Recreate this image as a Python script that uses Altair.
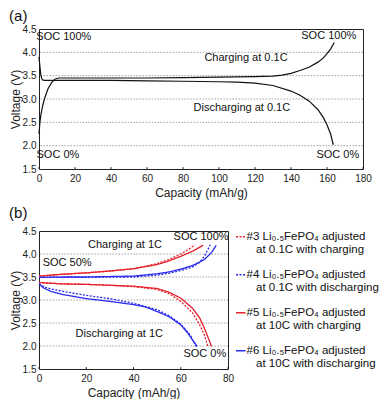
import altair as alt
import pandas as pd

FONT = "Liberation Sans"

# ---------------- Panel (a) data ----------------
a_chg_x = [0, 0.5, 1, 2, 3, 5, 7, 9, 11, 20, 40, 60, 80, 100, 120, 130, 135, 140, 145, 150, 155, 158, 160, 162, 164]
a_chg_v = [2.25, 2.5, 2.65, 2.85, 3.0, 3.22, 3.35, 3.43, 3.45, 3.45, 3.45, 3.45, 3.46, 3.47, 3.48, 3.49, 3.51, 3.55, 3.61, 3.68, 3.79, 3.88, 3.97, 4.07, 4.21]
a_dis_x = [0, 0.5, 1, 1.5, 2, 3, 5, 10, 20, 40, 60, 80, 100, 110, 120, 130, 140, 145, 150, 155, 158, 160, 162, 163.5]
a_dis_v = [3.9, 3.7, 3.52, 3.44, 3.41, 3.4, 3.4, 3.4, 3.4, 3.4, 3.39, 3.38, 3.37, 3.36, 3.34, 3.29, 3.17, 3.08, 2.96, 2.77, 2.6, 2.45, 2.25, 2.02]

a_txt = ["SOC 100%", "SOC 100%", "Charging at 0.1C", "Discharging at 0.1C", "SOC 0%", "SOC 0%"]
a_txt_x = [13.8, 161, 115, 112.7, 10.5, 166]
a_txt_v = [4.33, 4.35, 3.88, 2.81, 1.80, 1.79]

# ---------------- Panel (b) data ----------------
IND = "\u200b\u00a0\u00a0\u00a0"
series = [
    "#3 Li\u2080.\u2085FePO\u2084 adjusted|" + IND + "at 0.1C with charging",
    "#4 Li\u2080.\u2085FePO\u2084 adjusted|" + IND + "at 0.1C with discharging",
    "#5 Li\u2080.\u2085FePO\u2084 adjusted|" + IND + "at 10C with charging",
    "#6 Li\u2080.\u2085FePO\u2084 adjusted|" + IND + "at 10C with discharging",
]
colors = ["#e8202a", "#2a2af0", "#e8202a", "#2a2af0"]
dashes = [[2, 1.5], [2, 1.5], [1, 0], [1, 0]]

# charging curves (upper)
b3c_x = [0, 10, 20, 30, 40, 50, 55, 60, 63, 66]
b3c_v = [3.52, 3.56, 3.59, 3.63, 3.68, 3.79, 3.88, 4.0, 4.09, 4.2]
b4c_x = [0, 10, 20, 30, 40, 50, 55, 60, 65, 68, 70, 72.5]
b4c_v = [3.49, 3.49, 3.49, 3.5, 3.5, 3.54, 3.58, 3.64, 3.72, 3.82, 3.95, 4.2]
b5c_x = [0, 10, 20, 30, 40, 50, 55, 60, 65, 69.5]
b5c_v = [3.52, 3.56, 3.59, 3.63, 3.68, 3.77, 3.85, 3.95, 4.06, 4.19]
b6c_x = [0, 10, 20, 30, 40, 50, 55, 60, 65, 70, 73, 75]
b6c_v = [3.49, 3.5, 3.5, 3.51, 3.52, 3.57, 3.61, 3.67, 3.75, 3.88, 4.03, 4.19]

# discharging curves (lower)
b3d_x = [0, 10, 20, 30, 40, 50, 55, 60, 65, 68, 70, 71.5]
b3d_v = [3.38, 3.35, 3.34, 3.32, 3.29, 3.23, 3.14, 2.97, 2.72, 2.46, 2.24, 1.99]
b4d_x = [0, 2, 5, 10, 20, 30, 40, 50, 55, 60, 64, 66.5]
b4d_v = [3.35, 3.29, 3.24, 3.19, 3.1, 3.03, 2.93, 2.79, 2.66, 2.48, 2.24, 1.99]
b5d_x = [0, 10, 20, 30, 40, 50, 55, 60, 65, 68, 70, 72, 73]
b5d_v = [3.38, 3.35, 3.34, 3.32, 3.3, 3.25, 3.17, 3.04, 2.82, 2.61, 2.39, 2.13, 1.99]
b6d_x = [0, 2, 5, 10, 20, 30, 40, 45, 50, 55, 60, 63, 65, 67]
b6d_v = [3.35, 3.26, 3.19, 3.12, 3.03, 2.97, 2.9, 2.85, 2.75, 2.64, 2.46, 2.28, 2.13, 1.99]

b_txt = ["Charging at 1C", "SOC 100%", "SOC 50%", "Discharging at 1C", "SOC 0%"]
b_txt_x = [36.4, 68.6, 11.9, 34, 70.2]
b_txt_v = [4.19, 4.37, 3.80, 2.26, 1.83]

grid_v = [2.0, 2.5, 3.0, 3.5, 4.0]
a_ticks = [0, 20, 40, 60, 80, 100, 120, 140, 160, 180]
b_ticks = [0, 20, 40, 60, 80]
y_ticks = [1.5, 2.0, 2.5, 3.0, 3.5, 4.0, 4.5]

# ---------------- build tables ----------------
rows = []
for name, xs, vs in [("chg", a_chg_x, a_chg_v), ("dis", a_dis_x, a_dis_v)]:
    for i, (x, v) in enumerate(zip(xs, vs)):
        rows.append({"curve": name, "cap": x, "v": v, "i": i})
df_a = pd.DataFrame(rows)

rows = []
b_curves = [
    (series[0], "c", b3c_x, b3c_v), (series[0], "d", b3d_x, b3d_v),
    (series[1], "c", b4c_x, b4c_v), (series[1], "d", b4d_x, b4d_v),
    (series[2], "c", b5c_x, b5c_v), (series[2], "d", b5d_x, b5d_v),
    (series[3], "c", b6c_x, b6c_v), (series[3], "d", b6d_x, b6d_v),
]
for s, c, xs, vs in b_curves:
    for i, (x, v) in enumerate(zip(xs, vs)):
        rows.append({"series": s, "curve": s + c, "cap": x, "v": v, "i": i})
df_b = pd.DataFrame(rows)

df_grid = pd.DataFrame({"v": grid_v})
df_at = pd.DataFrame({"t": a_txt, "cap": a_txt_x, "v": a_txt_v})
df_bt = pd.DataFrame({"t": b_txt, "cap": b_txt_x, "v": b_txt_v})
df_atk = pd.DataFrame({"cap": a_ticks})
df_btk = pd.DataFrame({"cap": b_ticks})


def yaxis():
    return alt.Axis(values=y_ticks, format=".1f", title="Voltage (V)", grid=False,
                    ticks=False, domain=False, labelPadding=3, titlePadding=0,
                    labelFontSize=10, titleFontSize=12, titleFontWeight="normal",
                    labelColor="#222", titleColor="#222", labelFont=FONT, titleFont=FONT,
                    labelOverlap=False)


def xaxis(vals):
    return alt.Axis(values=vals, format="d", title="Capacity (mAh/g)", grid=False,
                    ticks=False, domain=False, labelPadding=4, titlePadding=4,
                    labelFontSize=10, titleFontSize=12, titleFontWeight="normal",
                    labelColor="#222", titleColor="#222", labelFont=FONT, titleFont=FONT,
                    labelFlush=False, labelOverlap=False)


def panel(df_txt, df_tk, xmax, xvals, line_layer_fn, title, offset, w, h):
    xs = alt.Scale(domain=[0, xmax], nice=False, zero=False)
    ys = alt.Scale(domain=[1.5, 4.5], nice=False, zero=False)
    X = lambda: alt.X("cap:Q", scale=xs, axis=xaxis(xvals))
    Y = lambda: alt.Y("v:Q", scale=ys, axis=yaxis())
    grid = alt.Chart(df_grid).mark_rule(color="#8a8a8a", strokeDash=[1.5, 1.5], strokeWidth=0.8).encode(
        y=Y())
    ticks = alt.Chart(df_tk).mark_rule(color="#222", strokeWidth=1).encode(
        x=X(),
        y=alt.YDatum(1.5, scale=ys, axis=yaxis()), y2=alt.datum(1.54))
    lines = line_layer_fn(X, Y)
    txt = alt.Chart(df_txt).mark_text(font=FONT, fontSize=11, color="#111", align="center", baseline="middle").encode(
        x=X(), y=Y(), text="t:N")
    return alt.layer(grid, ticks, lines, txt).properties(
        width=w, height=h,
        title=alt.TitleParams(title, anchor="start", frame="bounds", fontSize=15, font=FONT,
                              fontWeight="normal", color="#111", offset=offset))


def lines_a(X, Y):
    return alt.Chart(df_a).mark_line(color="#111", strokeWidth=1.2).encode(
        x=X(), y=Y(), detail="curve:N", order="i:Q")


def lines_b(X, Y):
    leg = alt.Legend(title=None, labelExpr="split(datum.label, '|')")
    return alt.Chart(df_b).mark_line(strokeWidth=1.3).encode(
        x=X(), y=Y(),
        color=alt.Color("series:N", scale=alt.Scale(domain=series, range=colors), legend=leg),
        strokeDash=alt.StrokeDash("series:N", scale=alt.Scale(domain=series, range=dashes), legend=leg),
        detail="curve:N", order="i:Q")


chart_a = panel(df_at, df_atk, 180, a_ticks, lines_a, "(a)", 0, 324, 140)
chart_b = panel(df_bt, df_btk, 80, b_ticks, lines_b, "(b)", 5, 189, 138)

chart = alt.vconcat(chart_a, chart_b, spacing=6).resolve_legend(
    color="independent", strokeDash="independent"
).properties(
    padding={"left": 0, "top": 0, "right": 0, "bottom": 0}
).configure_view(stroke="#222", strokeWidth=1).configure_legend(
    orient="right", offset=7, padding=0, symbolType="stroke", symbolSize=90,
    symbolStrokeWidth=1.5, labelFont=FONT, labelFontSize=11.5, labelColor="#111",
    labelLimit=400, rowPadding=12, labelOffset=0
)

chart.save("out.html", embed_options={"renderer": "svg", "actions": False})
